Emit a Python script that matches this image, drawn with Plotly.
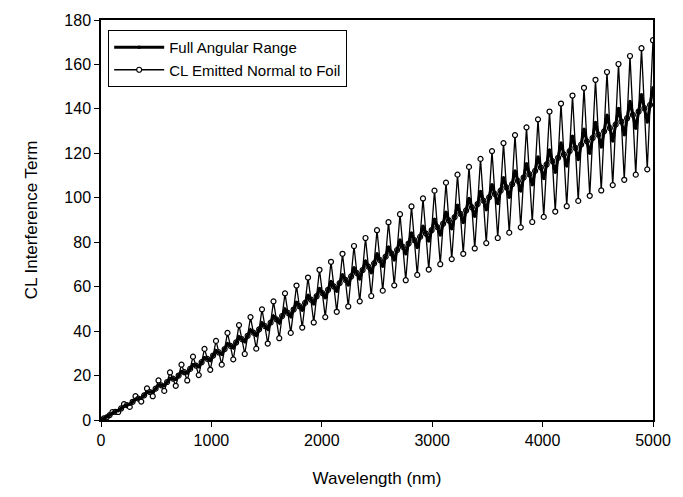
import numpy as np
import plotly.graph_objects as go

# Wavelength sampling grid (nm): 193 samples from 0 to 5000
wavelength = np.linspace(0, 5000, 193)

# CL emitted normal to foil (peak, fall, trough, rise per period)
normal_to_foil = [
    0.0, 0.7, 1.2, 2.2,
    3.6, 3.7, 3.6, 5.2,
    7.1, 6.7, 5.9, 8.2,
    10.7, 9.6, 8.3, 11.1,
    14.2, 12.6, 10.7, 14.1,
    17.8, 15.6, 13.1, 17.1,
    21.4, 18.6, 15.4, 20.0,
    24.9, 21.5, 17.8, 23.0,
    28.5, 24.5, 20.2, 26.0,
    32.0, 27.5, 22.6, 29.0,
    35.6, 30.4, 24.9, 31.9,
    39.2, 33.4, 27.3, 34.9,
    42.7, 36.4, 29.7, 37.9,
    46.3, 39.3, 32.1, 40.8,
    49.8, 42.3, 34.4, 43.8,
    53.4, 45.3, 36.8, 46.8,
    57.0, 48.2, 39.2, 49.7,
    60.5, 51.2, 41.6, 52.7,
    64.1, 54.2, 43.9, 55.7,
    67.6, 57.1, 46.3, 58.6,
    71.2, 60.1, 48.7, 61.6,
    74.8, 63.1, 51.1, 64.6,
    78.3, 66.1, 53.4, 67.5,
    81.9, 69.0, 55.8, 70.5,
    85.4, 72.0, 58.2, 73.5,
    89.0, 75.0, 60.6, 76.5,
    92.6, 77.9, 62.9, 79.4,
    96.1, 80.9, 65.3, 82.4,
    99.7, 83.9, 67.7, 85.4,
    103.2, 86.8, 70.1, 88.3,
    106.8, 89.8, 72.4, 91.3,
    110.4, 92.8, 74.8, 94.3,
    113.9, 95.7, 77.2, 97.2,
    117.5, 98.7, 79.6, 100.2,
    121.0, 101.7, 81.9, 103.2,
    124.6, 104.7, 84.3, 106.1,
    128.2, 107.6, 86.7, 109.1,
    131.7, 110.6, 89.1, 112.1,
    135.3, 113.6, 91.4, 115.0,
    138.8, 116.5, 93.8, 118.0,
    142.4, 119.5, 96.2, 121.0,
    146.0, 122.5, 98.6, 123.9,
    149.5, 125.4, 100.9, 126.9,
    153.1, 128.4, 103.3, 129.9,
    156.6, 131.4, 105.7, 132.9,
    160.2, 134.3, 108.1, 135.8,
    163.8, 137.3, 110.4, 138.8,
    167.3, 140.3, 112.8, 141.8,
    170.9,
]

# Full angular range (smaller oscillation about the same trend)
full_angular = [
    0.0, 0.7, 1.4, 2.2,
    3.1, 3.7, 4.2, 5.2,
    6.2, 6.7, 7.1, 8.2,
    9.3, 9.6, 9.9, 11.1,
    12.5, 12.6, 12.7, 14.1,
    15.6, 15.6, 15.5, 17.1,
    18.7, 18.6, 18.3, 20.0,
    21.8, 21.5, 21.2, 23.0,
    24.9, 24.5, 24.0, 26.0,
    28.0, 27.5, 26.8, 29.0,
    31.2, 30.4, 29.6, 31.9,
    34.3, 33.4, 32.5, 34.9,
    37.4, 36.4, 35.3, 37.9,
    40.5, 39.3, 38.1, 40.8,
    43.6, 42.3, 40.9, 43.8,
    46.7, 45.3, 43.8, 46.8,
    49.8, 48.2, 46.6, 49.7,
    53.0, 51.2, 49.4, 52.7,
    56.1, 54.2, 52.2, 55.7,
    59.2, 57.1, 55.0, 58.6,
    62.3, 60.1, 57.9, 61.6,
    65.4, 63.1, 60.7, 64.6,
    68.5, 66.1, 63.5, 67.5,
    71.6, 69.0, 66.3, 70.5,
    74.8, 72.0, 69.2, 73.5,
    77.9, 75.0, 72.0, 76.5,
    81.0, 77.9, 74.8, 79.4,
    84.1, 80.9, 77.6, 82.4,
    87.2, 83.9, 80.5, 85.4,
    90.3, 86.8, 83.3, 88.3,
    93.5, 89.8, 86.1, 91.3,
    96.6, 92.8, 88.9, 94.3,
    99.7, 95.7, 91.7, 97.2,
    102.8, 98.7, 94.6, 100.2,
    105.9, 101.7, 97.4, 103.2,
    109.0, 104.7, 100.2, 106.1,
    112.1, 107.6, 103.0, 109.1,
    115.3, 110.6, 105.9, 112.1,
    118.4, 113.6, 108.7, 115.0,
    121.5, 116.5, 111.5, 118.0,
    124.6, 119.5, 114.3, 121.0,
    127.7, 122.5, 117.2, 123.9,
    130.8, 125.4, 120.0, 126.9,
    133.9, 128.4, 122.8, 129.9,
    137.1, 131.4, 125.6, 132.9,
    140.2, 134.3, 128.4, 135.8,
    143.3, 137.3, 131.3, 138.8,
    146.4, 140.3, 134.1, 141.8,
    149.5,
]

FONT = "Liberation Sans, Arial, sans-serif"

fig = go.Figure()

fig.add_trace(go.Scatter(
    x=wavelength, y=normal_to_foil, mode="lines+markers",
    name="CL Emitted Normal to Foil",
    line=dict(color="black", width=1.3),
    marker=dict(symbol="circle", size=5, color="white",
                line=dict(color="black", width=1.2)),
))
fig.add_trace(go.Scatter(
    x=wavelength, y=full_angular, mode="lines+markers",
    name="Full Angular Range",
    line=dict(color="black", width=3),
    marker=dict(symbol="circle", size=3.5, color="black"),
))

fig.update_layout(
    width=683, height=497,
    margin=dict(l=101, r=22, t=18, b=77),
    paper_bgcolor="white", plot_bgcolor="white",
    font=dict(family=FONT, size=16, color="black"),
    showlegend=True,
    legend=dict(
        x=0.013, y=0.975, xanchor="left", yanchor="top",
        bordercolor="black", borderwidth=1, bgcolor="white",
        font=dict(family=FONT, size=15, color="black"),
        traceorder="reversed",
        itemwidth=50,
        tracegroupgap=0,
    ),
    xaxis=dict(
        range=[0, 5000], tickvals=[0, 1000, 2000, 3000, 4000, 5000],
        showgrid=False, zeroline=False,
        showline=True, linecolor="black", linewidth=1.5, mirror=True,
        ticks="outside", ticklen=5, tickcolor="black",
        title=dict(text="Wavelength (nm)", font=dict(family=FONT, size=17), standoff=24),
    ),
    yaxis=dict(
        range=[0, 180], dtick=20,
        showgrid=False, zeroline=False,
        showline=True, linecolor="black", linewidth=1.5, mirror=True,
        ticks="outside", ticklen=5, tickcolor="black",
        title=dict(text="CL Interference Term", font=dict(family=FONT, size=17), standoff=22),
    ),
)

fig.write_html("out.html")
